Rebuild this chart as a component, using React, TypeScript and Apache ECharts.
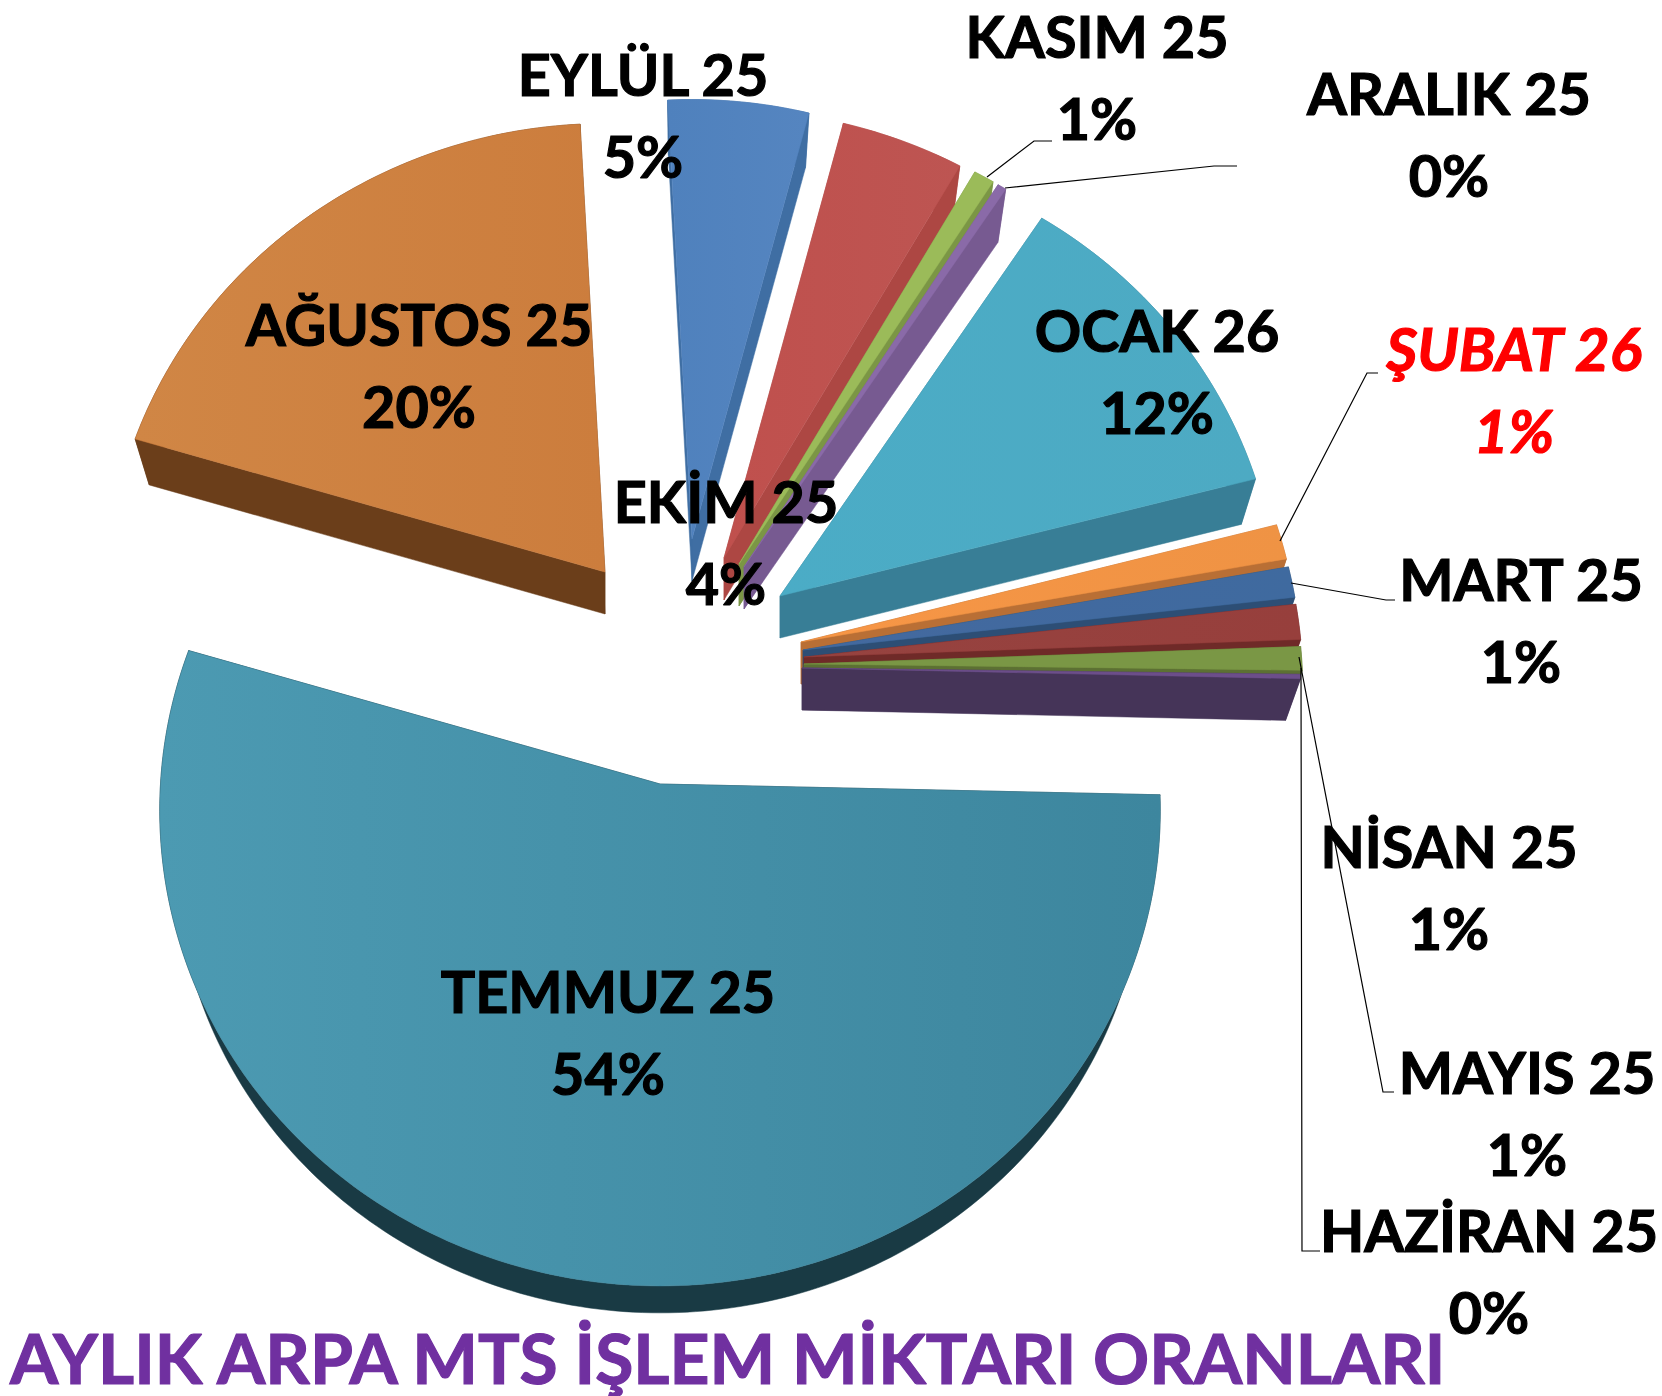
import React, { useEffect, useRef } from "react";
import * as echarts from "echarts";

const TITLE = "AYLIK ARPA MTS İŞLEM MİKTARI ORANLARI";
const MONTHS = ["TEMMUZ 25", "AĞUSTOS 25", "EYLÜL 25", "EKİM 25", "KASIM 25", "ARALIK 25", "OCAK 26", "ŞUBAT 26", "MART 25", "NİSAN 25", "MAYIS 25", "HAZİRAN 25"];
const SHARES = [54.25, 19.55, 4.9, 4.2, 0.7, 0.3, 11.7, 1.2, 1.05, 1.2, 0.8, 0.15];

// Styling and layout of the exploded 3D pie
const TOP_LEFT = ["#4c9ab2", "#d08645", "#4f81bd", "#c0504d", "#9bbb59", "#8a6aa8", "#4bacc6", "#f79646", "#44699f", "#964340", "#7a9745", "#6c4e8a"];
const TOP_RIGHT = ["#3d869e", "#cc7d3d", "#5585c0", "#bd5552", "#9bbb59", "#8a6aa8", "#4daac3", "#ef9344", "#3f6a9f", "#973f3c", "#7a9745", "#6c4e8a"];
const WALL = ["#193a44", "#6b3e1a", "#3f6ea3", "#ad4743", "#7b9645", "#775a91", "#387e96", "#b96f35", "#2d4e75", "#6f2a28", "#5c7033", "#453458"];
const APEX: number[][] = [[660, 784], [605, 572], [692, 539], [724, 558], [739, 564], [744, 567], [780, 596], [801, 642], [803, 650], [804, 657], [804, 664], [802, 668]];
const RADIUS_SCALE = [1.003, 1, 0.98, 1, 1, 1, 1, 1, 1, 1, 1, 1];
const LABEL_POS: number[][] = [[608, 1031], [419, 364], [643, 114], [726, 541], [1097, 76], [1449, 133], [1157, 370], [1514, 389], [1521, 619], [1449, 886], [1527, 1112], [1489, 1270]];
const LEADERS: (number[][] | null)[] = [
  null, null, null, null,
  [[987, 177], [1034, 141], [1052, 141]],
  [[1005, 188], [1214, 166], [1237, 166]],
  null,
  [[1280, 541], [1367, 373], [1378, 373]],
  [[1291, 583], [1386, 600], [1395, 600]],
  null,
  [[1299, 657], [1383, 1092], [1394, 1092]],
  [[1301, 668], [1302, 1251], [1320, 1251]],
];

const START_ANGLE = 1.3;
const R_X = 498;
const R_Y = 473;
const PERSPECTIVE = 0.0548;
const DEPTH = 42;
const FLOOR_SCALE = 0.97;
const FONT = "Lato";

const total = SHARES.reduce((a, b) => a + b, 0);

function project(deg: number, scale: number): number[] {
  const t = (deg * Math.PI) / 180;
  const den = 1 - PERSPECTIVE * Math.sin(t);
  return [(R_X * scale * Math.cos(t)) / den, (R_Y * scale * Math.sin(t)) / den];
}

function renderSlice(params: any, api: any) {
  const i = params.dataIndex;
  const before = SHARES.slice(0, i).reduce((a, b) => a + b, 0);
  const a0 = START_ANGLE + (before / total) * 360;
  const a1 = a0 + (api.value(0) / total) * 360;
  const [ax, ay] = APEX[i];
  const steps = Math.max(2, Math.ceil(a1 - a0));
  const top: number[][] = [];
  const floor: number[][] = [];
  for (let s = 0; s <= steps; s++) {
    const p = project(a0 + ((a1 - a0) * s) / steps, RADIUS_SCALE[i]);
    top.push([ax + p[0], ay + p[1]]);
    floor.push([ax + p[0] * FLOOR_SCALE, ay + DEPTH + p[1] * FLOOR_SCALE]);
  }
  const apexTop = [ax, ay];
  const apexFloor = [ax, ay + DEPTH];
  const wallStyle = { fill: WALL[i], stroke: WALL[i], lineWidth: 0.5 };
  const xs = top.map((p) => p[0]).concat(ax);
  const gradient = new echarts.graphic.LinearGradient(
    Math.min(...xs), 0, Math.max(...xs), 0,
    [{ offset: 0, color: TOP_LEFT[i] }, { offset: 1, color: TOP_RIGHT[i] }],
    true
  );
  return {
    type: "group",
    children: [
      { type: "polygon", shape: { points: top.concat([...floor].reverse()) }, style: wallStyle },
      { type: "polygon", shape: { points: [apexTop, top[0], floor[0], apexFloor] }, style: wallStyle },
      { type: "polygon", shape: { points: [apexTop, top[steps], floor[steps], apexFloor] }, style: wallStyle },
      { type: "polygon", shape: { points: [apexTop, ...top] }, style: { fill: gradient, stroke: TOP_RIGHT[i], lineWidth: 0.5 } },
    ],
  };
}

function renderLabel(params: any, api: any) {
  const i = params.dataIndex;
  const pct = Math.round((api.value(0) / total) * 100);
  const isRed = MONTHS[i].startsWith("ŞUBAT");
  const color = isRed ? "#ff0000" : "#000000";
  const children: any[] = [];
  if (LEADERS[i]) {
    children.push({
      type: "polyline",
      shape: { points: LEADERS[i] },
      style: { stroke: "#000", lineWidth: 1.2, fill: "none" },
    });
  }
  children.push({
    type: "text",
    x: LABEL_POS[i][0],
    y: LABEL_POS[i][1],
    style: {
      text: `${MONTHS[i]}\n${pct}%`,
      fontFamily: FONT,
      fontSize: isRed ? 60 : 57.5,
      fontWeight: "bold",
      fontStyle: isRed ? "italic" : "normal",
      lineHeight: 82,
      align: "center",
      verticalAlign: "middle",
      fill: color,
      stroke: color,
      lineWidth: 1.2,
    },
  });
  return { type: "group", children };
}

export default function App() {
  const ref = useRef<HTMLDivElement>(null);
  useEffect(() => {
    document.body.style.margin = "0";
    const chart = echarts.init(ref.current!, undefined, { renderer: "svg" });
    const data = SHARES.map((v, i) => ({ name: MONTHS[i], value: [v] }));
    chart.setOption({
      animation: false,
      backgroundColor: "#ffffff",
      title: {
        text: TITLE,
        left: 10,
        top: 1324,
        padding: 0,
        textStyle: { fontFamily: FONT, fontSize: 69.5, lineHeight: 66, fontWeight: "bold", color: "#7030a0", textBorderColor: "#7030a0", textBorderWidth: 1.2 },
      },
      series: [
        { type: "custom", coordinateSystem: "none", data, renderItem: renderSlice, z: 2, silent: true },
        { type: "custom", coordinateSystem: "none", data, renderItem: renderLabel, z: 3, silent: true },
      ],
    });
    return () => chart.dispose();
  }, []);
  return <div ref={ref} style={{ width: 1662, height: 1396 }} />;
}
